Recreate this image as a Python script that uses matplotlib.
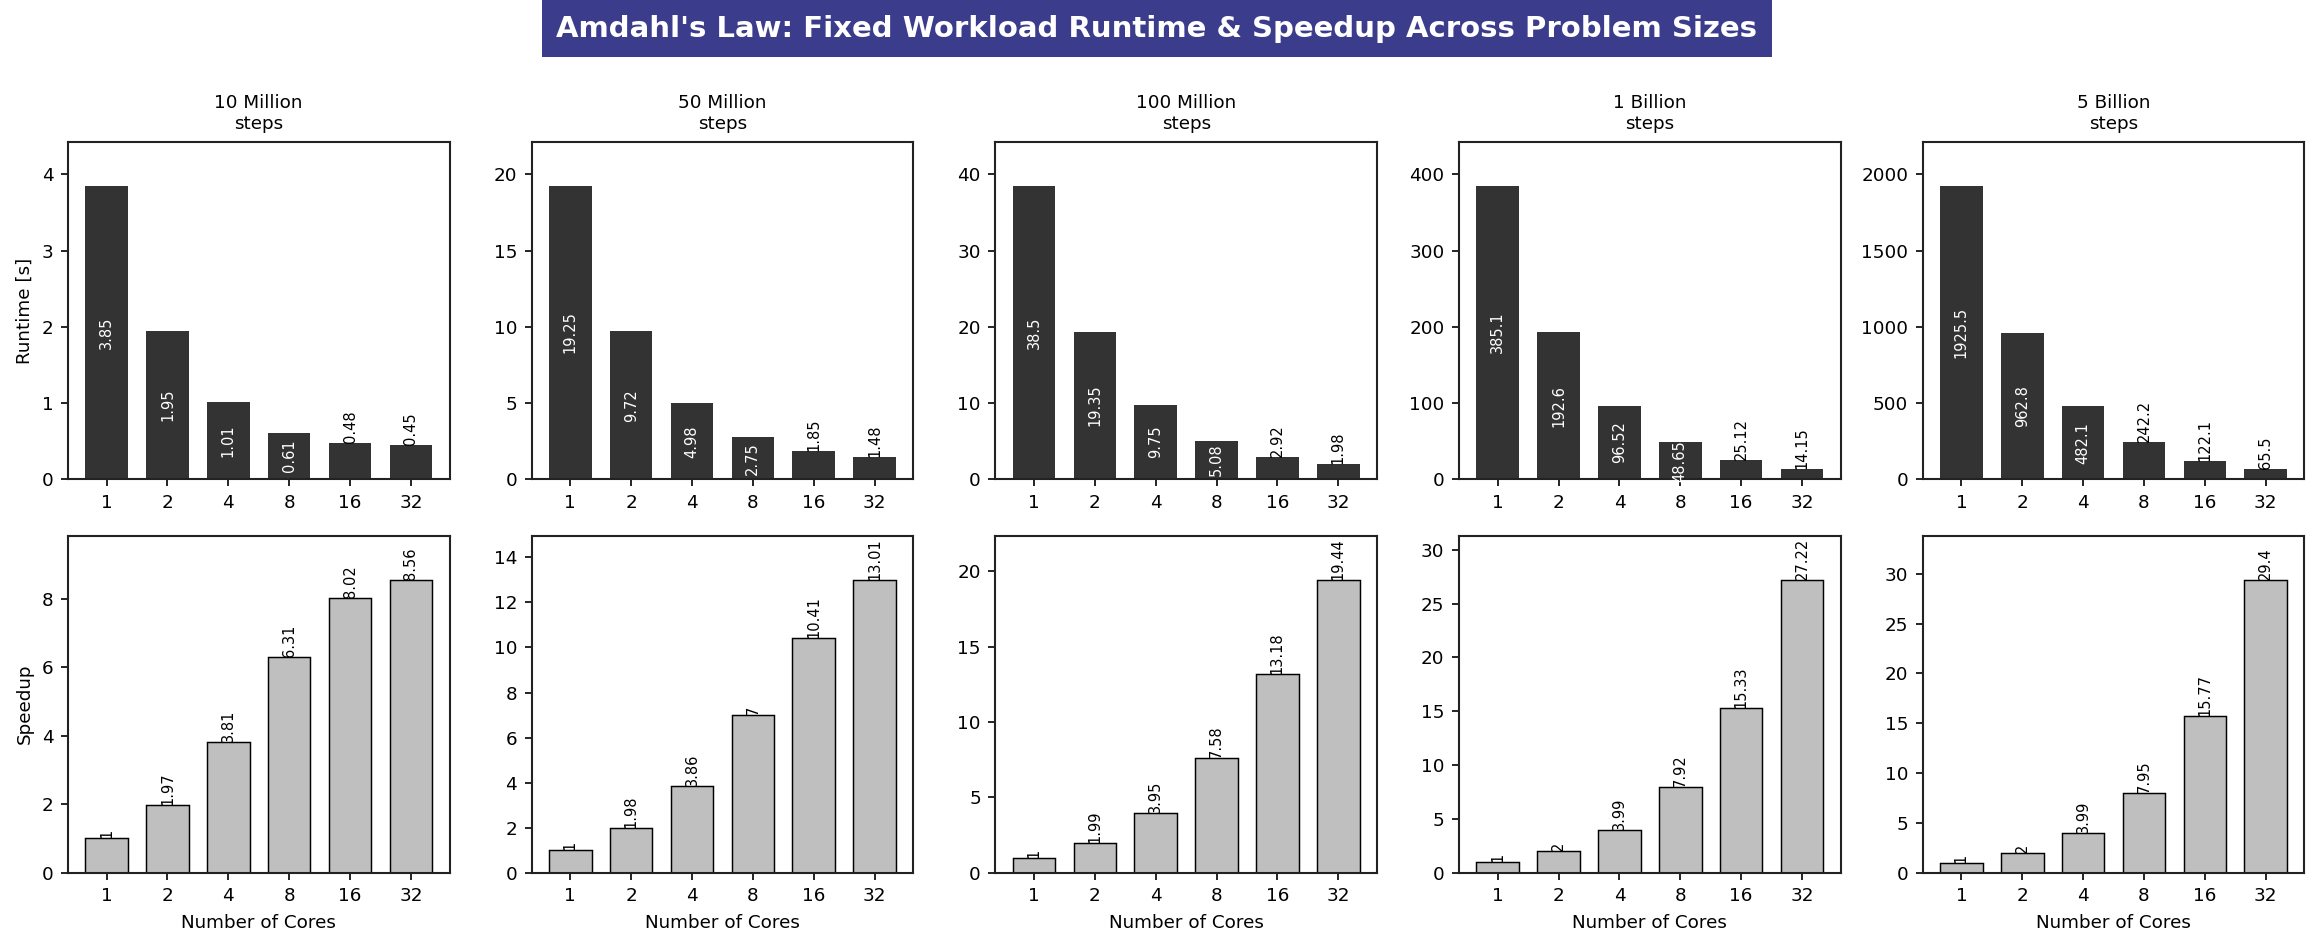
import matplotlib
matplotlib.use("Agg")
import matplotlib.pyplot as plt
from matplotlib.ticker import MaxNLocator
import numpy as np

# problem sizes and core counts
sizes = ["10 Million\nsteps", "50 Million\nsteps", "100 Million\nsteps",
         "1 Billion\nsteps", "5 Billion\nsteps"]
cores = ["1", "2", "4", "8", "16", "32"]

# runtime in seconds, one list per problem size
runtime_10m = [3.85, 1.95, 1.01, 0.61, 0.48, 0.45]
runtime_50m = [19.25, 9.72, 4.98, 2.75, 1.85, 1.48]
runtime_100m = [38.5, 19.35, 9.75, 5.08, 2.92, 1.98]
runtime_1b = [385.1, 192.6, 96.52, 48.65, 25.12, 14.15]
runtime_5b = [1925.5, 962.8, 482.1, 242.2, 122.1, 65.5]

# speedup relative to 1 core
speedup_10m = [1, 1.97, 3.81, 6.31, 8.02, 8.56]
speedup_50m = [1, 1.98, 3.86, 7, 10.41, 13.01]
speedup_100m = [1, 1.99, 3.95, 7.58, 13.18, 19.44]
speedup_1b = [1, 2, 3.99, 7.92, 15.33, 27.22]
speedup_5b = [1, 2, 3.99, 7.95, 15.77, 29.4]

runtimes = [runtime_10m, runtime_50m, runtime_100m, runtime_1b, runtime_5b]
speedups = [speedup_10m, speedup_50m, speedup_100m, speedup_1b, speedup_5b]

FS = 8.8
LABEL_FS = 7

fig = plt.figure(figsize=(2314 / 150, 949 / 150), dpi=150)

x = np.arange(len(cores))
left0 = 68 / 2314
step = 463.7 / 2314
w = 381.5 / 2314

for i in range(len(sizes)):
    ax_t = fig.add_axes([left0 + i * step, 0.4949, w, 0.3558])
    ax_b = fig.add_axes([left0 + i * step, 0.0804, w, 0.3551])

    # runtime row
    rt = runtimes[i]
    ax_t.bar(x, rt, width=0.7, color="#333333")
    ymax = max(rt)
    ax_t.set_ylim(0, ymax * 1.15)
    for xi, v in zip(x, rt):
        if v > 0.126 * ymax:
            ax_t.text(xi, v / 2, f"{v:g}", rotation=90, ha="center", va="center",
                      color="white", fontsize=LABEL_FS)
        else:
            ax_t.text(xi, v, f"{v:g}", rotation=90, ha="center", va="bottom",
                      color="black", fontsize=LABEL_FS)
    ax_t.set_title(sizes[i], fontsize=FS)

    # speedup row
    sp = speedups[i]
    ax_b.bar(x, sp, width=0.7, color="#bfbfbf", edgecolor="black", linewidth=0.7)
    ax_b.set_ylim(0, max(sp) * 1.15)
    for xi, v in zip(x, sp):
        ax_b.text(xi, v, f"{v:g}", rotation=90, ha="center", va="bottom",
                  color="black", fontsize=LABEL_FS)
    ax_b.set_xlabel("Number of Cores", fontsize=FS)

    if i == 0:
        ax_t.set_ylabel("Runtime [s]", fontsize=FS)
        ax_b.set_ylabel("Speedup", fontsize=FS)

    for ax in (ax_t, ax_b):
        ax.set_xticks(x)
        ax.set_xticklabels(cores)
        ax.tick_params(labelsize=FS)
        ax.yaxis.set_major_locator(MaxNLocator(nbins=8, steps=[1, 2, 2.5, 5, 10]))
        for s in ax.spines.values():
            s.set_color("#222222")
            s.set_linewidth(1.0)

fig.text(0.5, 1 - 36.7 / 949,
         "Amdahl's Law: Fixed Workload Runtime & Speedup Across Problem Sizes",
         ha="center", va="baseline", fontsize=14, fontweight="bold", color="white",
         bbox=dict(boxstyle="square,pad=0.5", facecolor="#3c3c8c", edgecolor="none"))

plt.savefig("out.png", dpi=150)
